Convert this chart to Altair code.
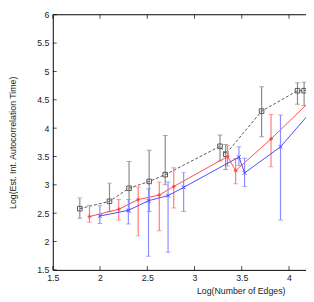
import altair as alt
import pandas as pd

# ---- data ----
gray_x = [1.786, 2.10, 2.307, 2.52, 2.69, 3.27, 3.33, 3.71, 4.09, 4.16, 4.35]
gray_y = [2.58, 2.71, 2.94, 3.06, 3.18, 3.68, 3.54, 4.30, 4.66, 4.66, 4.72]
gray_lo = [2.41, 2.53, 2.52, 2.53, 3.00, 3.42, 3.27, 3.85, 4.42, 4.40, 4.45]
gray_hi = [2.77, 3.03, 3.41, 3.61, 3.87, 3.88, 3.71, 4.73, 4.80, 4.81, 5.00]

red_x = [1.888, 2.198, 2.404, 2.627, 2.78, 3.35, 3.435, 3.81, 4.30]
red_y = [2.44, 2.57, 2.74, 2.82, 2.97, 3.50, 3.25, 3.81, 4.60]
red_lo = [2.34, 2.38, 2.10, 2.19, 2.59, 3.33, 3.02, 3.32, 4.20]
red_hi = [2.64, 2.74, 2.96, 3.05, 3.30, 3.69, 3.46, 4.24, 5.00]

blue_x = [1.998, 2.30, 2.513, 2.72, 2.885, 3.47, 3.53, 3.91, 4.30]
blue_y = [2.45, 2.55, 2.72, 2.81, 2.955, 3.49, 3.21, 3.67, 4.42]
blue_lo = [2.32, 2.31, 1.74, 1.81, 2.53, 3.34, 2.97, 2.38, 4.00]
blue_hi = [2.63, 2.74, 2.93, 3.05, 3.22, 3.67, 3.47, 4.23, 4.90]

x_ticks = [1.5, 2.0, 2.5, 3.0, 3.5, 4.0]
y_ticks = [1.5, 2.0, 2.5, 3.0, 3.5, 4.0, 4.5, 5.0, 5.5, 6.0]
x_domain = [1.5, 4.18]
y_domain = [1.5, 6.0]

x_title = "Log(Number of Edges)"
y_title = "Log(Est. Int. Autocorrelation Time)"

FONT = "Liberation Sans"

xs = alt.Scale(domain=x_domain, nice=False, zero=False)
ys = alt.Scale(domain=y_domain, nice=False, zero=False)

x_axis = alt.Axis(values=x_ticks, title=x_title, format=".1~f", labelOverlap=False,
                  labelFlush=False,
                  titleX=193, titleY=17, titleAlign="center", titleBaseline="top")
y_axis = alt.Axis(values=y_ticks, title=y_title, format=".1~f", labelOverlap=False,
                  labelFlush=False,
                  titleX=-41, titleY=131, titleAlign="center", titleBaseline="middle",
                  titleAngle=270)


def X(field):
    return alt.X(f"{field}:Q", scale=xs, axis=x_axis)


def Y(field):
    return alt.Y(f"{field}:Q", scale=ys, axis=y_axis)


def series(xv, yv, lo, hi, line_color, bar_color, dash, shape, msize, filled):
    df = pd.DataFrame({"x": xv, "y": yv, "lo": lo, "hi": hi, "i": range(len(xv))})
    base = alt.Chart(df)
    bars = base.mark_rule(color=bar_color, strokeWidth=1.2, clip=True).encode(
        x=X("x"), y=Y("lo"), y2="hi:Q")
    cap_lo = base.mark_tick(color=bar_color, orient="horizontal", size=5,
                            thickness=1, clip=True).encode(x=X("x"), y=Y("lo"))
    cap_hi = base.mark_tick(color=bar_color, orient="horizontal", size=5,
                            thickness=1, clip=True).encode(x=X("x"), y=Y("hi"))
    line_kw = dict(color=line_color, strokeWidth=1, clip=True)
    if dash:
        line_kw["strokeDash"] = dash
    line = base.mark_line(**line_kw).encode(x=X("x"), y=Y("y"), order="i:Q")
    pts = base.mark_point(shape=shape, size=msize, color=line_color, filled=filled,
                          strokeWidth=1, clip=True, opacity=1).encode(x=X("x"), y=Y("y"))
    return [bars, cap_lo, cap_hi, line, pts]


layers = []
layers += series(gray_x, gray_y, gray_lo, gray_hi, "#555555", "#8a8a8a", [3, 2],
                 "square", 22, False)
layers += series(red_x, red_y, red_lo, red_hi, "#ff4a4a", "#ff7a7a", None,
                 "cross", 14, True)
layers += series(blue_x, blue_y, blue_lo, blue_hi, "#4a4aff", "#8c8cff", None,
                 "M-1,-1L1,1M-1,1L1,-1", 14, False)

# frame and inward ticks
xt = alt.Chart(pd.DataFrame({"v": x_ticks}))
yt = alt.Chart(pd.DataFrame({"v": y_ticks}))
bottom_ticks = xt.mark_tick(orient="vertical", size=4, thickness=1, yOffset=-2,
                            color="black").encode(
    x=X("v"), y=alt.YDatum(1.5, scale=ys, axis=y_axis))
top_ticks = xt.mark_tick(orient="vertical", size=4, thickness=1, yOffset=2,
                         color="black").encode(
    x=X("v"), y=alt.YDatum(6.0, scale=ys, axis=y_axis))
left_ticks = yt.mark_tick(orient="horizontal", size=4, thickness=1, xOffset=2,
                          color="black").encode(
    y=Y("v"), x=alt.XDatum(1.5, scale=xs, axis=x_axis))
top_border = alt.Chart(pd.DataFrame({"a": [0]})).mark_rule(color="black", strokeWidth=1).encode(
    x=alt.XDatum(x_domain[0], scale=xs, axis=x_axis), x2=alt.X2Datum(x_domain[1]),
    y=alt.YDatum(6.0, scale=ys, axis=y_axis))

layers += [bottom_ticks, top_ticks, left_ticks, top_border]

chart = alt.layer(*layers).properties(
    width=260, height=262,
    autosize=alt.AutoSizeParams(type="none"),
    padding={"left": 46, "top": 3, "right": 0, "bottom": 27},
).configure_view(stroke=None).configure_axis(
    grid=False, ticks=False, domainColor="black", domainWidth=1,
    labelFont=FONT, labelFontSize=9, labelColor="#222222", labelPadding=4,
    labelOverlap=False,
    titleFont=FONT, titleFontSize=9, titleColor="#222222", titleFontWeight="normal",
)

chart.save("out.html", embed_options={"renderer": "svg", "actions": False})
